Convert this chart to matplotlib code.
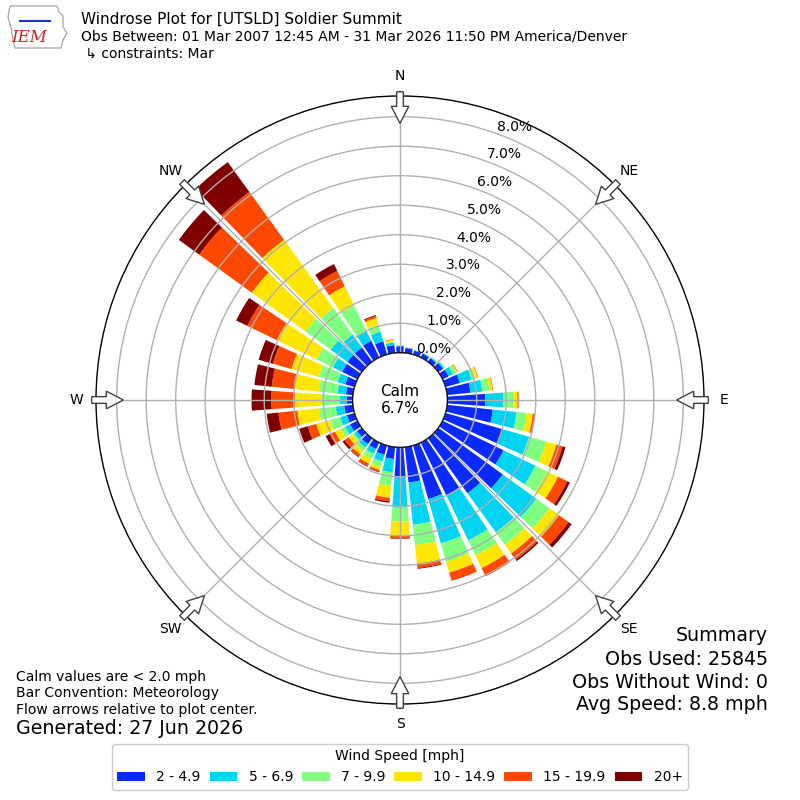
import numpy as np
import matplotlib
matplotlib.use("Agg")
import matplotlib.pyplot as plt
from matplotlib.patches import Patch, Circle, FancyArrow, Polygon
from matplotlib.lines import Line2D

# Direction (deg, meteorological) and percent frequency per speed bin
DIRECTIONS = np.arange(0, 360, 10)
SPD_2_5 = [0.22, 0.17, 0.14, 0.15, 0.15, 0.20, 0.23, 0.51, 0.80, 1.29, 1.56, 2.00,
           2.30, 2.70, 2.30, 2.00, 1.89, 1.21, 1.03, 0.41, 0.33, 0.25, 0.25, 0.20,
           0.28, 0.27, 0.30, 0.21, 0.24, 0.33, 0.58, 0.60, 0.60, 0.63, 0.47, 0.27]
SPD_5_7 = [0.02, 0.02, 0.02, 0.02, 0.04, 0.05, 0.17, 0.42, 0.40, 0.62, 0.81, 0.95,
           1.20, 1.40, 1.64, 1.69, 1.56, 1.44, 1.02, 0.46, 0.24, 0.18, 0.14, 0.12,
           0.19, 0.24, 0.29, 0.23, 0.29, 0.27, 0.35, 0.70, 0.54, 0.37, 0.34, 0.09]
SPD_7_10 = [0.03, 0.00, 0.00, 0.01, 0.02, 0.03, 0.12, 0.12, 0.25, 0.34, 0.34, 0.60,
            0.45, 0.55, 0.52, 0.56, 0.65, 0.69, 0.47, 0.46, 0.18, 0.19, 0.13, 0.08,
            0.16, 0.36, 0.57, 0.62, 0.63, 0.66, 0.61, 1.05, 1.11, 0.96, 0.24, 0.04]
SPD_10_15 = [0.00, 0.00, 0.00, 0.00, 0.01, 0.01, 0.04, 0.09, 0.10, 0.13, 0.21, 0.36,
             0.40, 0.40, 0.36, 0.48, 0.38, 0.63, 0.46, 0.40, 0.12, 0.18, 0.16, 0.15,
             0.22, 0.48, 0.74, 0.91, 0.86, 0.96, 1.50, 2.25, 2.85, 0.72, 0.24, 0.05]
SPD_15_20 = [0.00, 0.00, 0.00, 0.00, 0.00, 0.00, 0.02, 0.02, 0.02, 0.04, 0.06, 0.22,
             0.35, 0.40, 0.26, 0.31, 0.29, 0.15, 0.12, 0.12, 0.06, 0.10, 0.10, 0.17,
             0.20, 0.30, 0.64, 0.79, 0.75, 0.66, 1.11, 2.20, 2.00, 0.58, 0.07, 0.02]
SPD_20P = [0.00, 0.00, 0.00, 0.00, 0.00, 0.00, 0.00, 0.00, 0.00, 0.00, 0.01, 0.10,
           0.10, 0.13, 0.06, 0.00, 0.00, 0.03, 0.01, 0.05, 0.02, 0.02, 0.02, 0.08,
           0.15, 0.30, 0.40, 0.67, 0.59, 0.50, 0.42, 0.85, 1.25, 0.26, 0.03, 0.00]

BIN_LABELS = ["2 - 4.9", "5 - 6.9", "7 - 9.9", "10 - 14.9", "15 - 19.9", "20+"]
COLORS = ["#0a2aff", "#00d4f2", "#80ff80", "#ffe600", "#ff4800", "#800000"]
CALM = 6.7
RTICKS = [0, 1, 2, 3, 4, 5, 6, 7, 8]
COMPASS = ["N", "NE", "E", "SE", "S", "SW", "W", "NW"]
COMPASS_DEG = [0, 45, 90, 135, 180, 225, 270, 315]

GRID = "#b0b0b0"

fig = plt.figure(figsize=(8, 8), dpi=100)
ax = fig.add_axes([0.12, 0.12, 0.76, 0.76], projection="polar")
ax.set_theta_zero_location("N")
ax.set_theta_direction(-1)
ax.set_ylim(0, 8.7)
ax.set_rorigin(-1.6)

theta = np.deg2rad(DIRECTIONS)
width = np.deg2rad(8.2)
bottom = np.zeros(len(DIRECTIONS))
for vals, color in zip([SPD_2_5, SPD_5_7, SPD_7_10, SPD_10_15, SPD_15_20, SPD_20P], COLORS):
    vals = np.array(vals)
    ax.bar(theta, vals, width=width, bottom=bottom, color=color, linewidth=0)
    bottom = bottom + vals

ax.set_rticks(RTICKS)
ax.set_yticklabels([])
ax.set_thetagrids(COMPASS_DEG, labels=[""] * len(COMPASS_DEG))
ax.grid(True, color=GRID, linewidth=1.0)
ax.spines["polar"].set_color("black")
ax.spines["polar"].set_linewidth(1.0)

# radial labels
for r in RTICKS:
    ax.text(np.deg2rad(20), r, f"{r:.1f}%", ha="left", va="bottom",
            fontsize=10, zorder=5)

# calm circle in the middle
r0 = 0.5 * 1.6 / (8.7 + 1.6)
ax.add_patch(Circle((0.5, 0.5), r0, transform=ax.transAxes, facecolor="white",
                    edgecolor="black", linewidth=1.0, zorder=4))
ax.text(0.5, 0.5, f"Calm\n{CALM:.1f}%", transform=ax.transAxes, ha="center",
        va="center", fontsize=11, zorder=5)

# compass labels and flow arrows
for ang, lab in zip(COMPASS_DEG, COMPASS):
    s, c = np.sin(np.deg2rad(ang)), np.cos(np.deg2rad(ang))
    ax.text(0.5 + 0.533 * s, 0.5 + 0.533 * c, lab, transform=ax.transAxes,
            ha="center", va="center", fontsize=10)
    r1, r2 = 0.507, 0.455
    ax.add_patch(FancyArrow(0.5 + r1 * s, 0.5 + r1 * c, (r2 - r1) * s, (r2 - r1) * c,
                            width=0.011, head_width=0.029, head_length=0.028,
                            length_includes_head=True, transform=ax.transAxes,
                            facecolor="white", edgecolor="#404040", linewidth=1.0,
                            clip_on=False, zorder=6))

# header
fig.text(0.101, 0.976, "Windrose Plot for [UTSLD] Soldier Summit", fontsize=11, va="center")
fig.text(0.101, 0.954, "Obs Between: 01 Mar 2007 12:45 AM - 31 Mar 2026 11:50 PM America/Denver",
         fontsize=10, va="center")
fig.text(0.101, 0.9325, " \u21b3 constraints: Mar", fontsize=10, va="center")

# rough IEM logo
outline = [(10, 6), (57, 6), (59, 12), (63, 16), (63, 27), (67, 33), (63, 40),
           (61, 48), (15, 48), (13, 40), (11, 28), (8, 17)]
fig.add_artist(Polygon([(x / 800, 1 - y / 800) for x, y in outline], closed=True,
                       fill=False, edgecolor="#999999", linewidth=0.8))
fig.add_artist(Line2D([20 / 800, 50 / 800], [1 - 21 / 800, 1 - 21 / 800],
                      color="#2233cc", linewidth=1.5))
fig.text(0.037, 1 - 38 / 800, "IEM", color="#cc2222", fontsize=12, style="italic",
         family="DejaVu Serif", ha="center", va="center")

# footer notes
fig.text(0.02, 0.154, "Calm values are < 2.0 mph", fontsize=10, va="center")
fig.text(0.02, 0.134, "Bar Convention: Meteorology", fontsize=10, va="center")
fig.text(0.02, 0.1125, "Flow arrows relative to plot center.", fontsize=10, va="center")
fig.text(0.02, 0.089, "Generated: 27 Jun 2026", fontsize=13.7, va="center")

fig.text(0.96, 0.206, "Summary", fontsize=13.7, ha="right", va="center")
fig.text(0.96, 0.176, "Obs Used: 25845", fontsize=13.7, ha="right", va="center")
fig.text(0.96, 0.1475, "Obs Without Wind: 0", fontsize=13.7, ha="right", va="center")
fig.text(0.96, 0.119, "Avg Speed: 8.8 mph", fontsize=13.7, ha="right", va="center")

handles = [Patch(facecolor=c, label=l) for c, l in zip(COLORS, BIN_LABELS)]
fig.legend(handles=handles, ncol=6, loc="lower center", bbox_to_anchor=(0.5, 0.004),
           title="Wind Speed [mph]", fontsize=10, title_fontsize=10,
           columnspacing=0.65, handlelength=2.0, framealpha=1.0)

fig.savefig("out.png", dpi=100)
